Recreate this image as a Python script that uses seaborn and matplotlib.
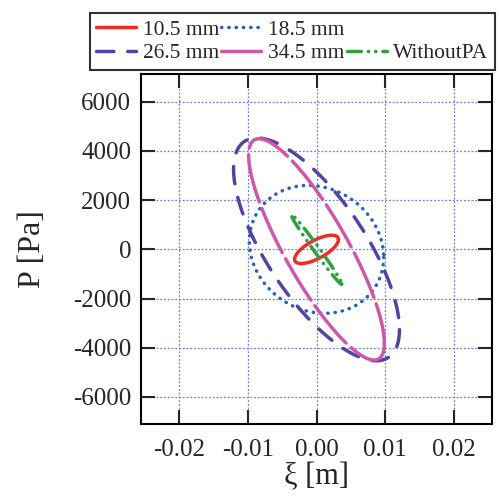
import numpy as np
import pandas as pd
import matplotlib
matplotlib.use("Agg")
import matplotlib.pyplot as plt
from matplotlib.lines import Line2D
import seaborn as sns

sns.set_style("ticks")
plt.rcParams['font.family'] = ['Liberation Serif', 'DejaVu Serif']

# pressure-displacement loops
LABELS = ['10.5 mm', '18.5 mm', '26.5 mm', '34.5 mm', 'WithoutPA']
XI_AMP = [0.0032, 0.0098, 0.0121, 0.0099, 0.0037]     # m
P_AMP = [575, 2600, 4530, 4500, 1420]                  # Pa
PHASE_DEG = [46, 97, 136, 148, 172]                    # phase of P vs xi

COLORS = ['#ee2b2b', '#2a62b8', '#5443a0', '#cc58aa', '#2f9f42']
STYLES = [
    '-',
    (0, (0.1, 2.0)),
    (0, (5, 4)),
    (0, (14, 2)),
    (0, (4, 2, 0.1, 2, 0.1, 2)),
]

XTICKS = [-0.02, -0.01, 0.0, 0.01, 0.02]
YTICKS = [-6000, -4000, -2000, 0, 2000, 4000, 6000]

t = np.linspace(0, 2 * np.pi, 400)

fig = plt.figure(figsize=(4.99, 4.99), dpi=100)
ax = fig.add_axes([0.2826, 0.1503, 0.7034, 0.7014])

handles = []
for lab, a, b, ph, c, ls in zip(LABELS, XI_AMP, P_AMP, PHASE_DEG, COLORS, STYLES):
    df = pd.DataFrame({'xi': a * np.cos(t), 'P': b * np.cos(t + np.deg2rad(ph))})
    sns.lineplot(data=df, x='xi', y='P', sort=False, estimator=None, ax=ax,
                 color=c, lw=2.5, linestyle=ls, dash_capstyle='round',
                 solid_capstyle='round')
    h_ls = '-' if lab == '34.5 mm' else ls
    handles.append(Line2D([], [], color=c, lw=2.5, linestyle=h_ls,
                          dash_capstyle='round', label=lab))

ax.set_xlim(-0.0256, 0.0256)
ax.set_ylim(-7100, 7130)
ax.set_xticks(XTICKS)
ax.set_xticklabels([f'{v:.2f}' for v in XTICKS])
ax.set_yticks(YTICKS)
ax.set_yticklabels([str(v) for v in YTICKS])
ax.grid(True, color='#6d7fcc', linestyle=(0, (1.5, 1.5)), lw=0.9)
ax.tick_params(direction='in', length=10, width=1.5, top=True, right=True,
               labelsize=18, pad=7)
ax.tick_params(axis='x', pad=11)
for s in ax.spines.values():
    s.set_linewidth(1.5)
    s.set_color('black')
ax.set_xlabel('ξ [m]', fontsize=22, labelpad=1)
ax.set_ylabel('P [Pa]', fontsize=23, labelpad=19)
if ax.get_legend():
    ax.get_legend().remove()

blank = Line2D([], [], color='none', label='')
order = [handles[0], handles[2], handles[1], handles[3], blank, handles[4]]
leg = fig.legend(handles=order, labels=[h.get_label() for h in order], ncol=3,
                 loc='center', bbox_to_anchor=(0.586, 0.917), fontsize=15.5,
                 frameon=True, fancybox=False, edgecolor='black',
                 handlelength=1.85, handletextpad=0.32, columnspacing=0.1,
                 labelspacing=0.15, borderpad=0.3, borderaxespad=0)
leg.get_frame().set_linewidth(1.5)

fig.savefig('out.png', dpi=100)
